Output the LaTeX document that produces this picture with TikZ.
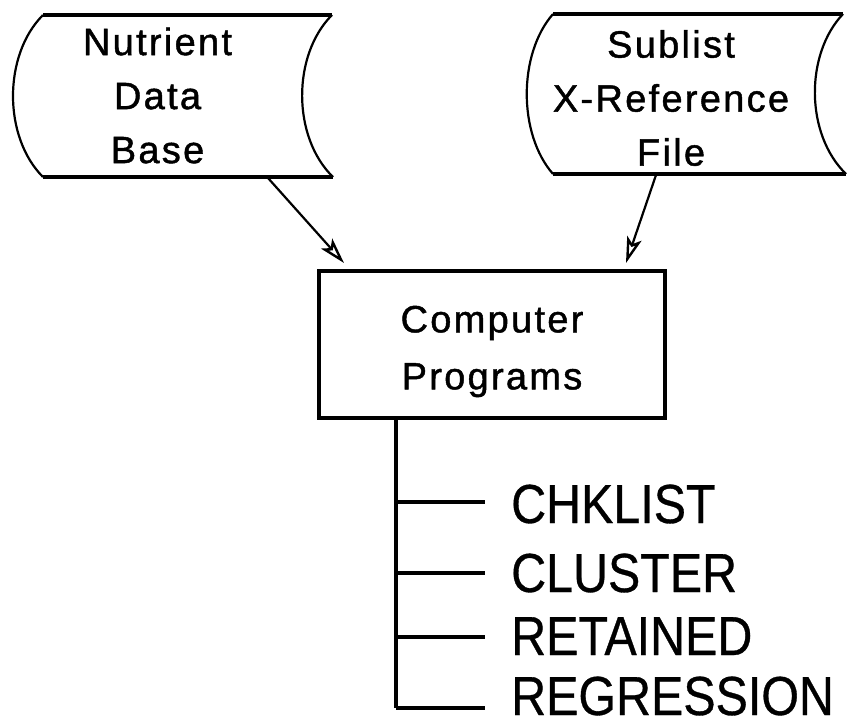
\documentclass[tikz,border=0pt]{standalone}
\usepackage{fontspec}
\usetikzlibrary{arrows.meta}
\newfontfamily\shapefont[LetterSpace=6,FakeBold=1.2]{Liberation Sans}
\newfontfamily\labelfont[FakeStretch=0.88,FakeBold=0.6]{Liberation Sans}
\tikzset{
  outline/.style={line width=3.2pt, line join=round},
  sidearc/.style={line width=2.2pt},
  shapetext/.style={align=center, inner sep=0pt, font=\shapefont\fontsize{38}{54}\selectfont},
  boxtext/.style={align=center, inner sep=0pt, font=\shapefont\fontsize{38}{57}\selectfont},
  flow/.style={line width=2.2pt, -{Stealth[length=26pt,width=15pt,inset=6pt,open,line width=2.4pt]}},
  branch/.style={line width=3.2pt},
  prog/.style={anchor=base west, inner sep=0pt, font=\labelfont\fontsize{55}{60}\selectfont}
}
\begin{document}
\begin{tikzpicture}[x=1pt,y=-1pt]
\useasboundingbox (0,0) rectangle (858,724);
% left storage shape
\draw[outline] (43,15) -- (332,15);
\draw[outline] (43,177) -- (333,177);
\draw[sidearc] (43,15) .. controls (3,55) and (3,137) .. (43,177);
\draw[sidearc] (332,15) .. controls (292,55) and (292,137) .. (333,177);
\node[shapetext] (ndb) at (157.5,95.5) {Nutrient\\Data\\Base};
% right storage shape
\draw[outline] (553,14) -- (843,14);
\draw[outline] (553,174) -- (846,174);
\draw[sidearc] (553,14) .. controls (518,54) and (518,134) .. (553,174);
\draw[sidearc] (843,14) .. controls (805,54) and (805,134) .. (846,174);
\node[shapetext] (sxr) at (671,98) {Sublist\\X-Reference\\File};
% box
\node[draw, line width=3.2pt, minimum width=346pt, minimum height=147pt, inner sep=0pt] (cp) at (492,344.5) {};
\node[boxtext] (cpt) at (492,351.5) {Computer\\Programs};
% arrows
\coordinate (ndbout) at (268,178);
\coordinate (ndbtip) at (344,263);
\coordinate (sxrout) at (656,175);
\coordinate (sxrtip) at (626,263);
\draw[flow] (ndbout) -- (ndbtip);
\draw[flow] (sxrout) -- (sxrtip);
% branches
\coordinate (trunk) at (396,418);
\coordinate (b1) at (396,502);
\coordinate (b2) at (396,573);
\coordinate (b3) at (396,637);
\coordinate (b4) at (396,708);
\draw[branch] (trunk) -- (b4);
\node[prog] (p1) at (511,523) {CHKLIST};
\node[prog] (p2) at (511,592) {CLUSTER};
\node[prog] (p3) at (511,655) {RETAINED};
\node[prog] (p4) at (511,715) {REGRESSION};
\draw[branch] (b1) -- ++(89,0);
\draw[branch] (b2) -- ++(89,0);
\draw[branch] (b3) -- ++(89,0);
\draw[branch] (b4) -- ++(89,0);
\end{tikzpicture}
\end{document}
